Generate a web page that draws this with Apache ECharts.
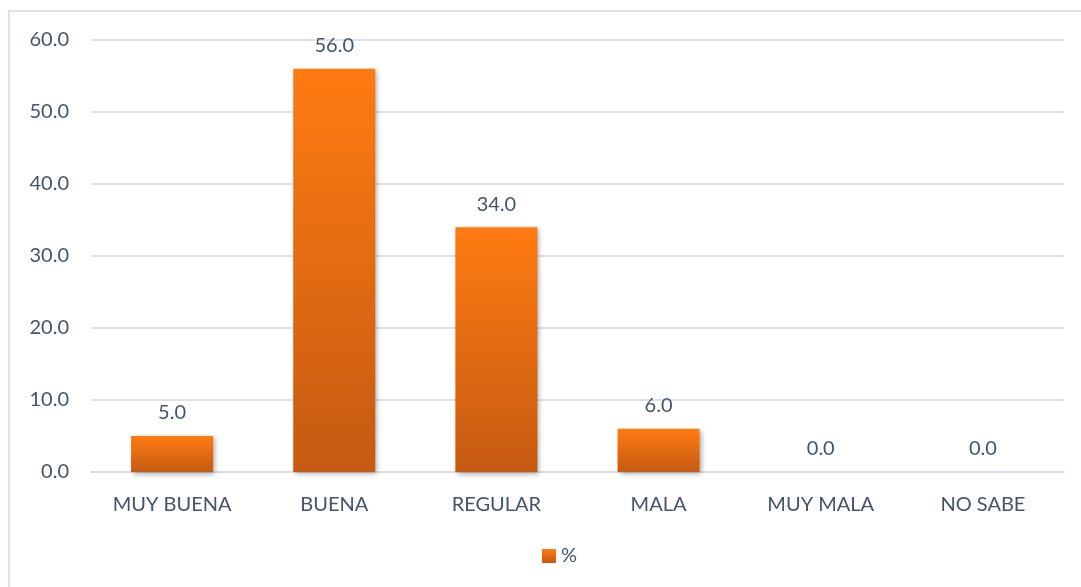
<!DOCTYPE html>
<html>
<head>
<meta charset="utf-8">
<script src="https://cdn.jsdelivr.net/npm/echarts@6/dist/echarts.min.js"></script>
<style>
html,body{margin:0;padding:0;background:#fff;}
#frame{position:absolute;left:8px;top:10px;width:1090px;height:600px;border:2px solid #dde2ea;box-sizing:border-box;}
#chart{position:absolute;left:0;top:0;width:1081px;height:587px;}
</style>
</head>
<body>
<div id="frame"></div>
<div id="chart"></div>
<script>
// Survey response categories and their percentages
const categories = ['MUY BUENA', 'BUENA', 'REGULAR', 'MALA', 'MUY MALA', 'NO SABE'];
const percentValues = [5.0, 56.0, 34.0, 6.0, 0.0, 0.0];
const seriesName = '%';

const textColor = '#44546a';
const fontFamily = 'Lato, "Open Sans", sans-serif';
const barGradient = new echarts.graphic.LinearGradient(0, 0, 0, 1, [
  { offset: 0, color: '#ff7b12' },
  { offset: 1, color: '#c55a11' }
]);

const chart = echarts.init(document.getElementById('chart'), null, { renderer: 'canvas' });
chart.setOption({
  backgroundColor: 'transparent',
  animation: false,
  textStyle: { fontFamily },
  grid: { left: 91, right: 17, top: 40, bottom: 115, containLabel: false },
  legend: {
    bottom: 16,
    left: 537,
    itemWidth: 14,
    itemHeight: 14,
    itemGap: 6,
    textStyle: { color: textColor, fontSize: 20, fontFamily },
    data: [{ name: seriesName, icon: 'rect' }]
  },
  xAxis: {
    type: 'category',
    data: categories,
    axisLine: { show: true, lineStyle: { color: '#d9dde4', width: 2 } },
    axisTick: { show: false },
    axisLabel: { color: textColor, fontSize: 20, margin: 23, fontFamily }
  },
  yAxis: {
    type: 'value',
    min: 0,
    max: 60,
    interval: 10,
    axisLine: { show: false },
    axisTick: { show: false },
    splitLine: { lineStyle: { color: '#dde2ea', width: 2 } },
    axisLabel: {
      color: textColor,
      fontSize: 20,
      margin: 22,
      fontFamily,
      formatter: v => v.toFixed(1)
    }
  },
  series: [{
    name: seriesName,
    type: 'bar',
    data: percentValues,
    barWidth: 82,
    itemStyle: {
      color: barGradient,
      shadowColor: 'rgba(0,0,0,0.35)',
      shadowBlur: 5,
      shadowOffsetX: 2,
      shadowOffsetY: 2
    },
    label: {
      show: true,
      position: 'top',
      distance: 13,
      color: textColor,
      fontSize: 20,
      fontFamily,
      formatter: p => p.value.toFixed(1)
    }
  }]
});
</script>
</body>
</html>
